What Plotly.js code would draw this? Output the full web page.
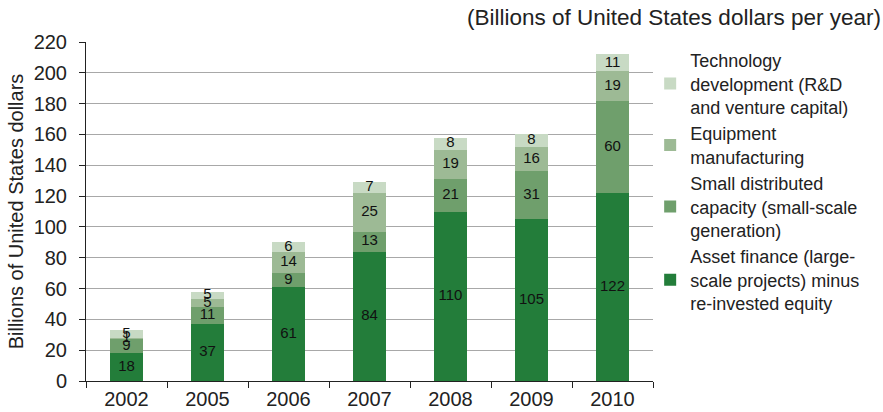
<!DOCTYPE html>
<html><head><meta charset="utf-8">
<script src="https://cdn.plot.ly/plotly-3.0.1.min.js"></script>
<style>body{margin:0;padding:0;background:#fff}#chart{width:883px;height:412px}</style>
</head><body><div id="chart"></div>
<script>
const years = ['2002','2005','2006','2007','2008','2009','2010'];
const assetFinance = [18,37,61,84,110,105,122];
const smallDistributed = [9,11,9,13,21,31,60];
const equipment = [1,5,14,25,19,16,19];
const technology = [5,5,6,7,8,8,11];
const seriesNames = ['Asset finance (large-<br>scale projects) minus<br>re-invested equity',
  'Small distributed<br>capacity (small-scale<br>generation)',
  'Equipment<br>manufacturing',
  'Technology<br>development (R&D<br>and venture capital)'];
const colors = ['#237d3a','#6f9f6c','#9dba95','#c8dac4'];
const series = [assetFinance, smallDistributed, equipment, technology];

const traces = [];
series.forEach((vals,i)=>{
  traces.push({type:'bar', x:years, y:vals, name:seriesNames[i],
    marker:{color:colors[i], line:{width:0}}, width:0.41, hoverinfo:'y'});
});
const lx=[], ly=[], lt=[];
const cum = years.map(()=>0);
series.forEach(vals=>{
  vals.forEach((v,j)=>{ lx.push(years[j]); ly.push(cum[j]+v/2); lt.push(String(v)); cum[j]+=v; });
});
traces.push({type:'scatter', mode:'text', x:lx, y:ly, text:lt, showlegend:false,
  textfont:{family:'Liberation Sans, Arial, sans-serif', size:15, color:'#111'}, hoverinfo:'skip'});

const layout = {
  width:883, height:412, barmode:'stack',
  margin:{l:86, r:230, t:42, b:31},
  paper_bgcolor:'#fff', plot_bgcolor:'#fff',
  font:{family:'Liberation Sans, Arial, sans-serif', size:20, color:'#222'},
  xaxis:{type:'category', showline:true, linecolor:'#222', linewidth:1, ticks:'outside', tickson:'boundaries',
    ticklen:6, tickcolor:'#222', showgrid:false, tickfont:{size:20}},
  yaxis:{range:[0,220], dtick:20, showline:true, linecolor:'#222', linewidth:1, ticks:'outside', ticklen:6,
    tickcolor:'#222', gridcolor:'#a8a8a8', gridwidth:1, zeroline:false, tickfont:{size:20}, ticklabelstandoff:8,
    title:{text:'Billions of United States dollars', font:{size:20}, standoff:4}},
  legend:{x:0.995, xanchor:'left', y:1.0, yanchor:'top', traceorder:'reversed', maxheight:400,
    font:{size:18, color:'#222'}, itemwidth:30, bgcolor:'rgba(0,0,0,0)'},
  annotations:[{text:'(Billions of United States dollars per year)', xref:'paper', yref:'paper',
    x:1.405, y:1.0, xanchor:'right', yanchor:'bottom', yshift:10, showarrow:false, font:{size:22.5, color:'#222'}}],
  showlegend:true
};
Plotly.newPlot('chart', traces, layout, {displayModeBar:false, staticPlot:true});
</script></body></html>
